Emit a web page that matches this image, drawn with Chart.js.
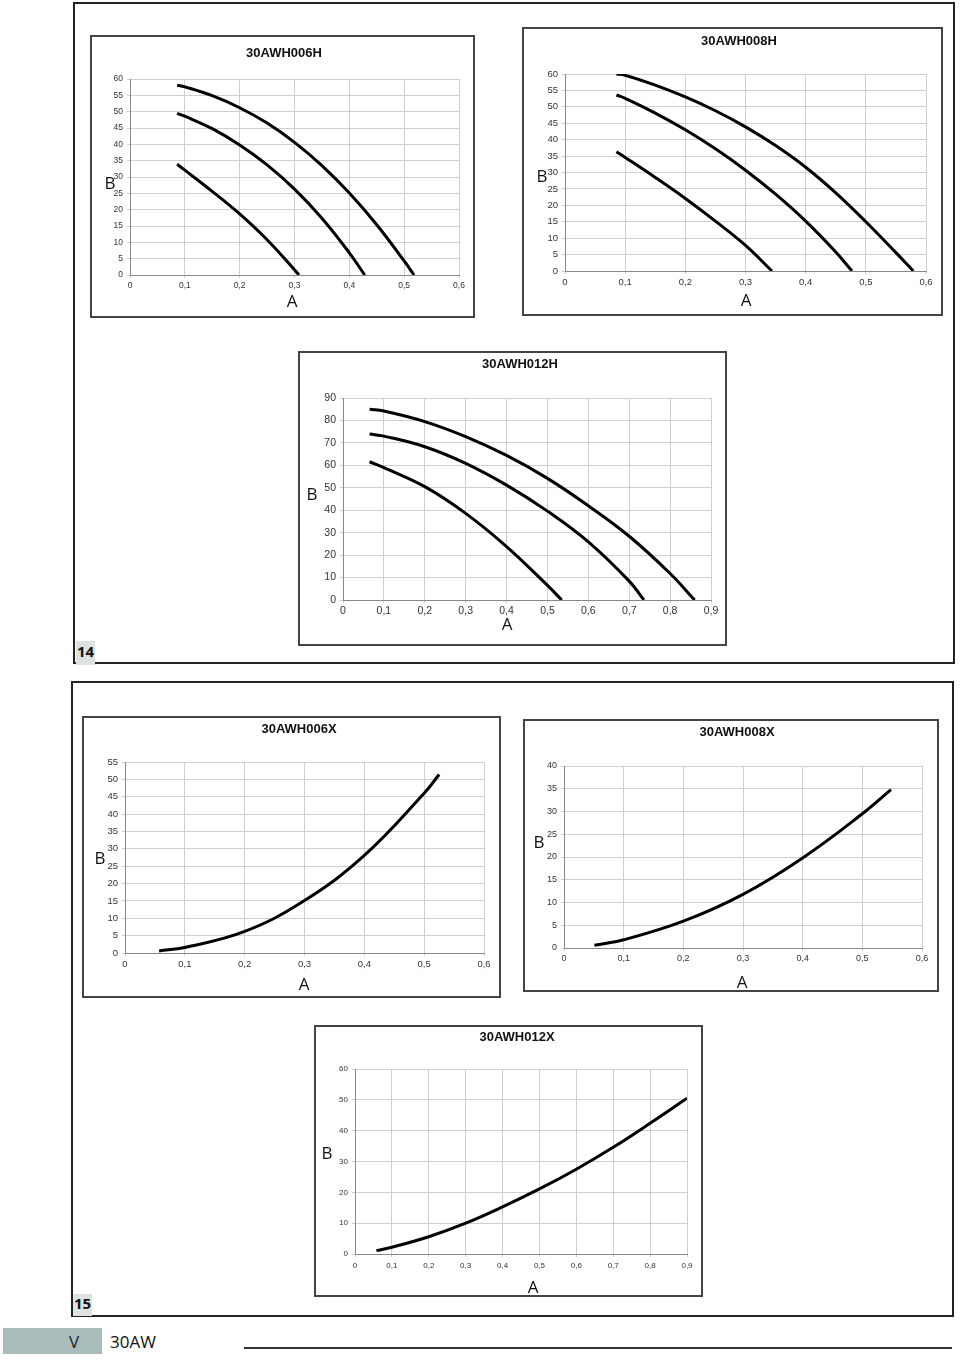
<!DOCTYPE html>
<html>
<head>
<meta charset="utf-8">
<script src="https://cdn.jsdelivr.net/npm/chart.js@4.4.1/dist/chart.umd.min.js"></script>
<style>
  body { margin: 0; width: 960px; height: 1362px; position: relative; background: #fff; overflow: hidden; font-family: "Open Sans", "Liberation Sans", sans-serif; }
  .frame { position: absolute; border: 2px solid #222; box-sizing: border-box; }
  .fig { position: absolute; background: #dde3e1; font: bold 15px "Open Sans", sans-serif; color: #111; line-height: 1; padding: 0 1px; }
  canvas { position: absolute; }
  #foot { position: absolute; left: 3px; top: 1328px; width: 99px; height: 26px; background: #a9bebc; }
  #footV { position: absolute; left: 69px; top: 1330px; font-size: 17px; color: #222; }
  #footT { position: absolute; left: 110px; top: 1330px; font-size: 17px; color: #111; }
  #footLine { position: absolute; left: 244px; top: 1347px; width: 708px; height: 2px; background: #333; }
</style>
</head>
<body>
<div class="frame" style="left:73px;top:2px;width:882px;height:662px"></div>
<div class="frame" style="left:71px;top:681px;width:883px;height:636px"></div>
<div class="fig" style="left:76px;top:641px;height:21px;padding-top:3px">14</div>
<div class="fig" style="left:73px;top:1294px;height:20px;padding-top:2px">15</div>
<div id="foot"></div>
<div id="footV">V</div>
<div id="footT">30AW</div>
<div id="footLine"></div>

<script>
// flow (A) and head (B)

// 30AWH006H
const h006hX1 = [0.086, 0.1, 0.15, 0.2, 0.25, 0.3, 0.35, 0.4, 0.45, 0.5, 0.518];
const h006hY1 = [58.1, 57.6, 54.9, 51.2, 46.5, 40.6, 33.5, 25.1, 15.4, 4.3, 0];
const h006hX2 = [0.086, 0.1, 0.15, 0.2, 0.25, 0.3, 0.35, 0.4, 0.428];
const h006hY2 = [49.5, 48.6, 44.8, 39.8, 33.7, 26.3, 17.4, 6.8, 0];
const h006hX3 = [0.086, 0.1, 0.15, 0.2, 0.25, 0.3, 0.308];
const h006hY3 = [33.9, 32.1, 25.6, 18.7, 10.8, 1.6, 0];

// 30AWH008H
const h008hX1 = [0.0855, 0.1, 0.15, 0.2, 0.25, 0.3, 0.35, 0.4, 0.45, 0.5, 0.55, 0.579];
const h008hY1 = [60, 59.6, 56.6, 53, 48.8, 43.9, 38.2, 31.6, 23.8, 15, 5.6, 0];
const h008hX2 = [0.0855, 0.1, 0.15, 0.2, 0.25, 0.3, 0.35, 0.4, 0.45, 0.477];
const h008hY2 = [53.6, 52.6, 48.1, 43, 37.2, 30.7, 23.4, 15.2, 5.8, 0];
const h008hX3 = [0.0855, 0.1, 0.15, 0.2, 0.25, 0.3, 0.344];
const h008hY3 = [36.3, 34.6, 28.5, 22.1, 15.2, 7.8, 0];

// 30AWH012H
const h012hX1 = [0.065, 0.1, 0.2, 0.3, 0.4, 0.5, 0.6, 0.7, 0.8, 0.86];
const h012hY1 = [85, 84.2, 79.5, 72.8, 64.4, 54.2, 42, 28.4, 11.8, 0];
const h012hX2 = [0.065, 0.1, 0.2, 0.3, 0.4, 0.5, 0.6, 0.7, 0.736];
const h012hY2 = [74, 73, 68.3, 60.9, 51.2, 39.6, 25.9, 8.4, 0];
const h012hX3 = [0.065, 0.1, 0.2, 0.3, 0.4, 0.5, 0.535];
const h012hY3 = [61.6, 59, 50.5, 38.6, 23.8, 6.5, 0];

// 30AWH006X
const h006xX = [0.057, 0.1, 0.2, 0.3, 0.4, 0.5, 0.525];
const h006xY = [0.6, 1.6, 6.2, 15.1, 28.1, 46, 51.4];

// 30AWH008X
const h008xX = [0.051, 0.1, 0.2, 0.3, 0.4, 0.5, 0.548];
const h008xY = [0.6, 1.8, 5.9, 11.8, 19.8, 29.5, 34.8];

// 30AWH012X
const h012xX = [0.058, 0.1, 0.2, 0.3, 0.4, 0.5, 0.6, 0.7, 0.8, 0.9];
const h012xY = [1.1, 2.2, 5.6, 10, 15.3, 21.1, 27.5, 34.6, 42.4, 50.5];

const axisTitleX = 'A';
const axisTitleY = 'B';

function commaTick(v) {
    return v === 0 ? '0' : v.toFixed(1).replace('.', ',');
}

// box border, title and the upright A / B labels
const decor = {
    id: 'decor',
    beforeDraw(chart) {
        const c = chart.ctx;
        c.save();
        c.fillStyle = '#fff';
        c.fillRect(0, 0, chart.width, chart.height);
        c.restore();
    },
    afterDraw(chart, args, o) {
        const c = chart.ctx;
        c.save();
        c.strokeStyle = '#444';
        c.lineWidth = 2;
        c.strokeRect(1, 1, chart.width - 2, chart.height - 2);
        c.fillStyle = '#111';
        c.textAlign = 'center';
        c.textBaseline = 'middle';
        c.font = 'bold 13px "Liberation Sans", Arial, sans-serif';
        c.fillText(o.title, o.tx, o.ty);
        c.font = '17px "Open Sans", sans-serif';
        c.fillText(axisTitleX, o.ax, o.ay);
        c.fillText(axisTitleY, o.bx, o.by);
        c.restore();
    }
};

const panels = [
    { title: '30AWH006H', box: [90, 35, 475, 318], plot: [130, 79, 459, 275], t: [284, 53], a: [292, 302], b: [110, 184],
      xMax: 0.6, yMax: 60, yStep: 5, font: 8.5, xPad: 3,
      series: [[h006hX1, h006hY1], [h006hX2, h006hY2], [h006hX3, h006hY3]] },
    { title: '30AWH008H', box: [522, 27, 943, 316], plot: [565, 74, 926, 271], t: [739, 41], a: [746, 301], b: [542, 177],
      xMax: 0.6, yMax: 60, yStep: 5, font: 9.5, xPad: 3,
      series: [[h008hX1, h008hY1], [h008hX2, h008hY2], [h008hX3, h008hY3]] },
    { title: '30AWH012H', box: [298, 351, 727, 646], plot: [343, 398, 711, 600], t: [520, 364], a: [507, 625], b: [312, 495],
      xMax: 0.9, yMax: 90, yStep: 10, font: 10.5, xPad: 2,
      series: [[h012hX1, h012hY1], [h012hX2, h012hY2], [h012hX3, h012hY3]] },
    { title: '30AWH006X', box: [82, 716, 501, 998], plot: [125, 762, 484, 953], t: [299, 729], a: [304, 985], b: [100, 859],
      xMax: 0.6, yMax: 55, yStep: 5, font: 9.5, xPad: 3,
      series: [[h006xX, h006xY]] },
    { title: '30AWH008X', box: [523, 719, 939, 992], plot: [564, 766, 922, 948], t: [737, 732], a: [742, 983], b: [539, 843],
      xMax: 0.6, yMax: 40, yStep: 5, font: 9, xPad: 2,
      series: [[h008xX, h008xY]] },
    { title: '30AWH012X', box: [314, 1025, 703, 1297], plot: [355, 1069, 687, 1254], t: [517, 1037], a: [533, 1288], b: [327, 1154],
      xMax: 0.9, yMax: 60, yStep: 10, font: 8, xPad: 4,
      series: [[h012xX, h012xY]] }
];

panels.forEach(function (p) {
    const [bl, bt, br, bb] = p.box;
    const [pl, pt, pr, pb] = p.plot;
    const cv = document.createElement('canvas');
    cv.width = br - bl;
    cv.height = bb - bt;
    cv.style.left = bl + 'px';
    cv.style.top = bt + 'px';
    document.body.appendChild(cv);

    const tickFont = { family: '"Liberation Sans", Arial, sans-serif', size: p.font };

    new Chart(cv.getContext('2d'), {
        type: 'scatter',
        data: {
            datasets: p.series.map(function (s) {
                return {
                    data: s[0].map(function (x, i) { return { x: x, y: s[1][i] }; }),
                    showLine: true,
                    borderColor: '#000',
                    borderWidth: 3,
                    pointRadius: 0,
                    tension: 0.4
                };
            })
        },
        options: {
            responsive: false,
            animation: false,
            devicePixelRatio: 1,
            layout: { padding: { left: 0, top: pt - bt, right: br - pr, bottom: 0 } },
            plugins: {
                legend: { display: false },
                tooltip: { enabled: false },
                decor: {
                    title: p.title,
                    tx: p.t[0] - bl, ty: p.t[1] - bt,
                    ax: p.a[0] - bl, ay: p.a[1] - bt,
                    bx: p.b[0] - bl, by: p.b[1] - bt
                }
            },
            scales: {
                x: {
                    type: 'linear',
                    min: 0,
                    max: p.xMax,
                    afterFit: function (s) { s.height = bb - pb; },
                    grid: { color: '#cfcfcf', tickLength: 3 },
                    border: { color: '#888' },
                    ticks: { stepSize: 0.1, autoSkip: false, maxRotation: 0, color: '#333', font: tickFont, padding: p.xPad, callback: commaTick }
                },
                y: {
                    min: 0,
                    max: p.yMax,
                    afterFit: function (s) { s.width = pl - bl; },
                    grid: { color: '#cfcfcf', tickLength: 3 },
                    border: { color: '#888' },
                    ticks: { stepSize: p.yStep, autoSkip: false, color: '#333', font: tickFont, padding: 4 }
                }
            }
        },
        plugins: [decor]
    });
});
</script>
</body>
</html>
